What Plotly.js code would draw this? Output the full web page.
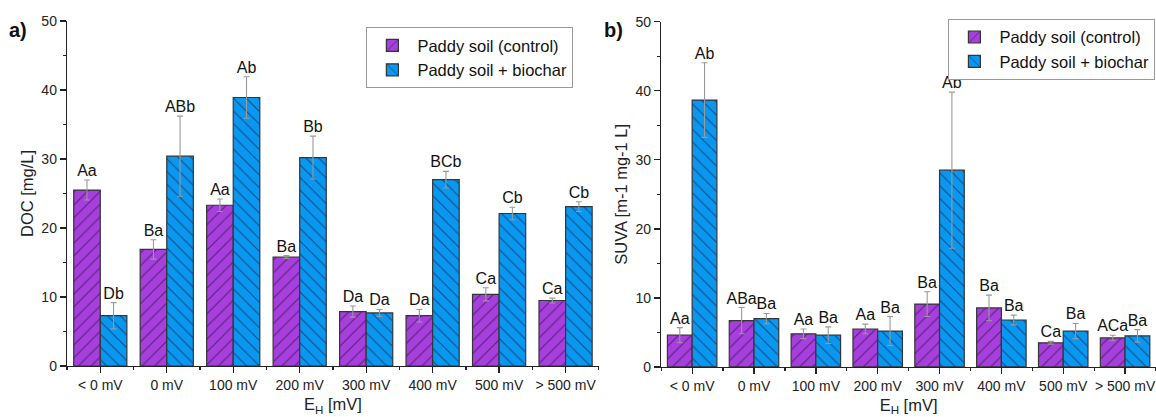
<!DOCTYPE html>
<html>
<head>
<meta charset="utf-8">
<script src="https://cdn.plot.ly/plotly-3.0.1.min.js"></script>
<style>html,body{margin:0;padding:0;background:#fff;}#chart{width:1156px;height:417px;}</style>
</head>
<body>
<div id="chart"></div>
<script>
const categories = ["< 0 mV", "0 mV", "100 mV", "200 mV", "300 mV", "400 mV", "500 mV", "> 500 mV"];
const seriesNames = ["Paddy soil (control)", "Paddy soil + biochar"];

// Panel a) DOC [mg/L]
const docControl = [25.5, 16.9, 23.3, 15.8, 7.9, 7.3, 10.4, 9.5];
const docControlErr = [1.45, 1.4, 0.9, 0.2, 0.8, 0.9, 0.95, 0.35];
const docBiochar = [7.3, 30.4, 38.9, 30.2, 7.7, 27.0, 22.1, 23.1];
const docBiocharErr = [1.9, 5.8, 3.0, 3.1, 0.5, 1.2, 0.9, 0.7];
const docControlLetters = ["Aa", "Ba", "Aa", "Ba", "Da", "Da", "Ca", "Ca"];
const docBiocharLetters = ["Db", "ABb", "Ab", "Bb", "Da", "BCb", "Cb", "Cb"];

// Panel b) SUVA [m-1 mg-1 L]
const suvaControl = [4.6, 6.7, 4.8, 5.5, 9.1, 8.55, 3.5, 4.2];
const suvaControlErr = [1.1, 1.9, 0.7, 0.7, 1.8, 1.85, 0.2, 0.4];
const suvaBiochar = [38.65, 7.0, 4.6, 5.2, 28.5, 6.8, 5.2, 4.5];
const suvaBiocharErr = [5.4, 0.75, 1.2, 2.1, 11.3, 0.7, 1.1, 0.9];
const suvaControlLetters = ["Aa", "ABa", "Aa", "Aa", "Ba", "Ba", "Ca", "ACa"];
const suvaBiocharLetters = ["Ab", "Ba", "Ba", "Ba", "Ab", "Ba", "Ba", "Ba"];

const xIdx = categories.map((_, i) => i);
const PURPLE = "#a63fdc";
const BLUE = "#0a97f0";
const FONT = "Liberation Sans, Arial, sans-serif";

function barTrace(name, vals, errs, color, fg, shape, xa, ya, lg, og) {
  return {
    type: "bar", name: name, x: xIdx, y: vals,
    xaxis: xa, yaxis: ya, legend: lg, offsetgroup: og, alignmentgroup: xa,
    marker: {
      color: color,
      line: {color: "#353535", width: 1.2},
      pattern: {shape: shape, fgcolor: fg, bgcolor: color, size: 9, solidity: 0.12, fillmode: "replace"}
    },
    error_y: {type: "data", array: errs, visible: true, color: "#999999", thickness: 1.1, width: 3},
    hoverinfo: "skip"
  };
}
function textTrace(vals, errs, letters, xa, ya, og) {
  return {
    type: "scatter", mode: "text", x: xIdx, y: vals.map((v, i) => v + errs[i]),
    text: letters, textposition: "top center",
    textfont: {family: FONT, size: 16, color: "#111"},
    xaxis: xa, yaxis: ya, offsetgroup: og, alignmentgroup: xa,
    showlegend: false, hoverinfo: "skip", cliponaxis: false
  };
}

const data = [
  barTrace(seriesNames[0], docControl, docControlErr, PURPLE, "#5a1f7e", "/", "x", "y", "legend", "c"),
  barTrace(seriesNames[1], docBiochar, docBiocharErr, BLUE, "#0b4d86", "\\", "x", "y", "legend", "b"),
  textTrace(docControl, docControlErr, docControlLetters, "x", "y", "c"),
  textTrace(docBiochar, docBiocharErr, docBiocharLetters, "x", "y", "b"),
  barTrace(seriesNames[0], suvaControl, suvaControlErr, PURPLE, "#5a1f7e", "/", "x2", "y2", "legend2", "c"),
  barTrace(seriesNames[1], suvaBiochar, suvaBiocharErr, BLUE, "#0b4d86", "\\", "x2", "y2", "legend2", "b"),
  textTrace(suvaControl, suvaControlErr, suvaControlLetters, "x2", "y2", "c"),
  textTrace(suvaBiochar, suvaBiocharErr, suvaBiocharLetters, "x2", "y2", "b")
];

function xAxis(domain, anchor) {
  return {
    domain: domain, anchor: anchor, range: [-0.5, 7.5],
    tickvals: xIdx, ticktext: categories,
    showline: true, linecolor: "#222", linewidth: 1.3, mirror: false,
    ticks: "outside", ticklen: 6, tickcolor: "#222", tickwidth: 1.3,
    minor: {tick0: 0.5, dtick: 1, ticks: "outside", ticklen: 3, tickcolor: "#222", tickwidth: 1.3},
    showgrid: false, zeroline: false,
    tickfont: {family: FONT, size: 14, color: "#222"},
    title: {text: "E<sub>H</sub> [mV]", font: {family: FONT, size: 16.5, color: "#222"}, standoff: 6},
    fixedrange: true
  };
}
function yAxis(domain, anchor, title) {
  return {
    domain: domain, anchor: anchor, range: [0, 50],
    tickvals: [0, 10, 20, 30, 40, 50],
    showline: true, linecolor: "#222", linewidth: 1.3,
    ticks: "outside", ticklen: 6, tickcolor: "#222", tickwidth: 1.3,
    minor: {tick0: 5, dtick: 10, ticks: "outside", ticklen: 3, tickcolor: "#222", tickwidth: 1.3},
    showgrid: false, zeroline: false,
    tickfont: {family: FONT, size: 14, color: "#222"},
    title: {text: title, font: {family: FONT, size: 16.5, color: "#222"}, standoff: 3},
    fixedrange: true
  };
}

const legendStyle = {
  font: {family: FONT, size: 16.5, color: "#111"},
  bgcolor: "#fff", bordercolor: "#999", borderwidth: 1,
  xanchor: "right", yanchor: "top", tracegroupgap: 0, itemwidth: 40,
  traceorder: "normal"
};

const layout = {
  width: 1156, height: 417,
  margin: {l: 0, r: 0, t: 0, b: 0},
  paper_bgcolor: "#fff", plot_bgcolor: "#fff",
  barmode: "group", bargap: 0.2, bargroupgap: 0,
  scattermode: "group", scattergap: 0.2,
  showlegend: true,
  xaxis: xAxis([0.058, 0.518], "y"),
  yaxis: yAxis([0.122, 0.95], "x", "DOC [mg/L]"),
  xaxis2: xAxis([0.572, 1.0], "y2"),
  yaxis2: yAxis([0.12, 0.948], "x2", "SUVA [m-1 mg-1 L]"),
  legend: Object.assign({}, legendStyle, {x: 0.496, y: 0.935}),
  legend2: Object.assign({}, legendStyle, {x: 0.9995, y: 0.955}),
  annotations: [
    {text: "<b>a)</b>", xref: "paper", yref: "paper", x: 0.006, y: 0.96, xanchor: "left", yanchor: "top", showarrow: false, font: {family: FONT, size: 20, color: "#111"}},
    {text: "<b>b)</b>", xref: "paper", yref: "paper", x: 0.521, y: 0.96, xanchor: "left", yanchor: "top", showarrow: false, font: {family: FONT, size: 20, color: "#111"}}
  ]
};

Plotly.newPlot("chart", data, layout, {displayModeBar: false, staticPlot: true});
</script>
</body>
</html>
